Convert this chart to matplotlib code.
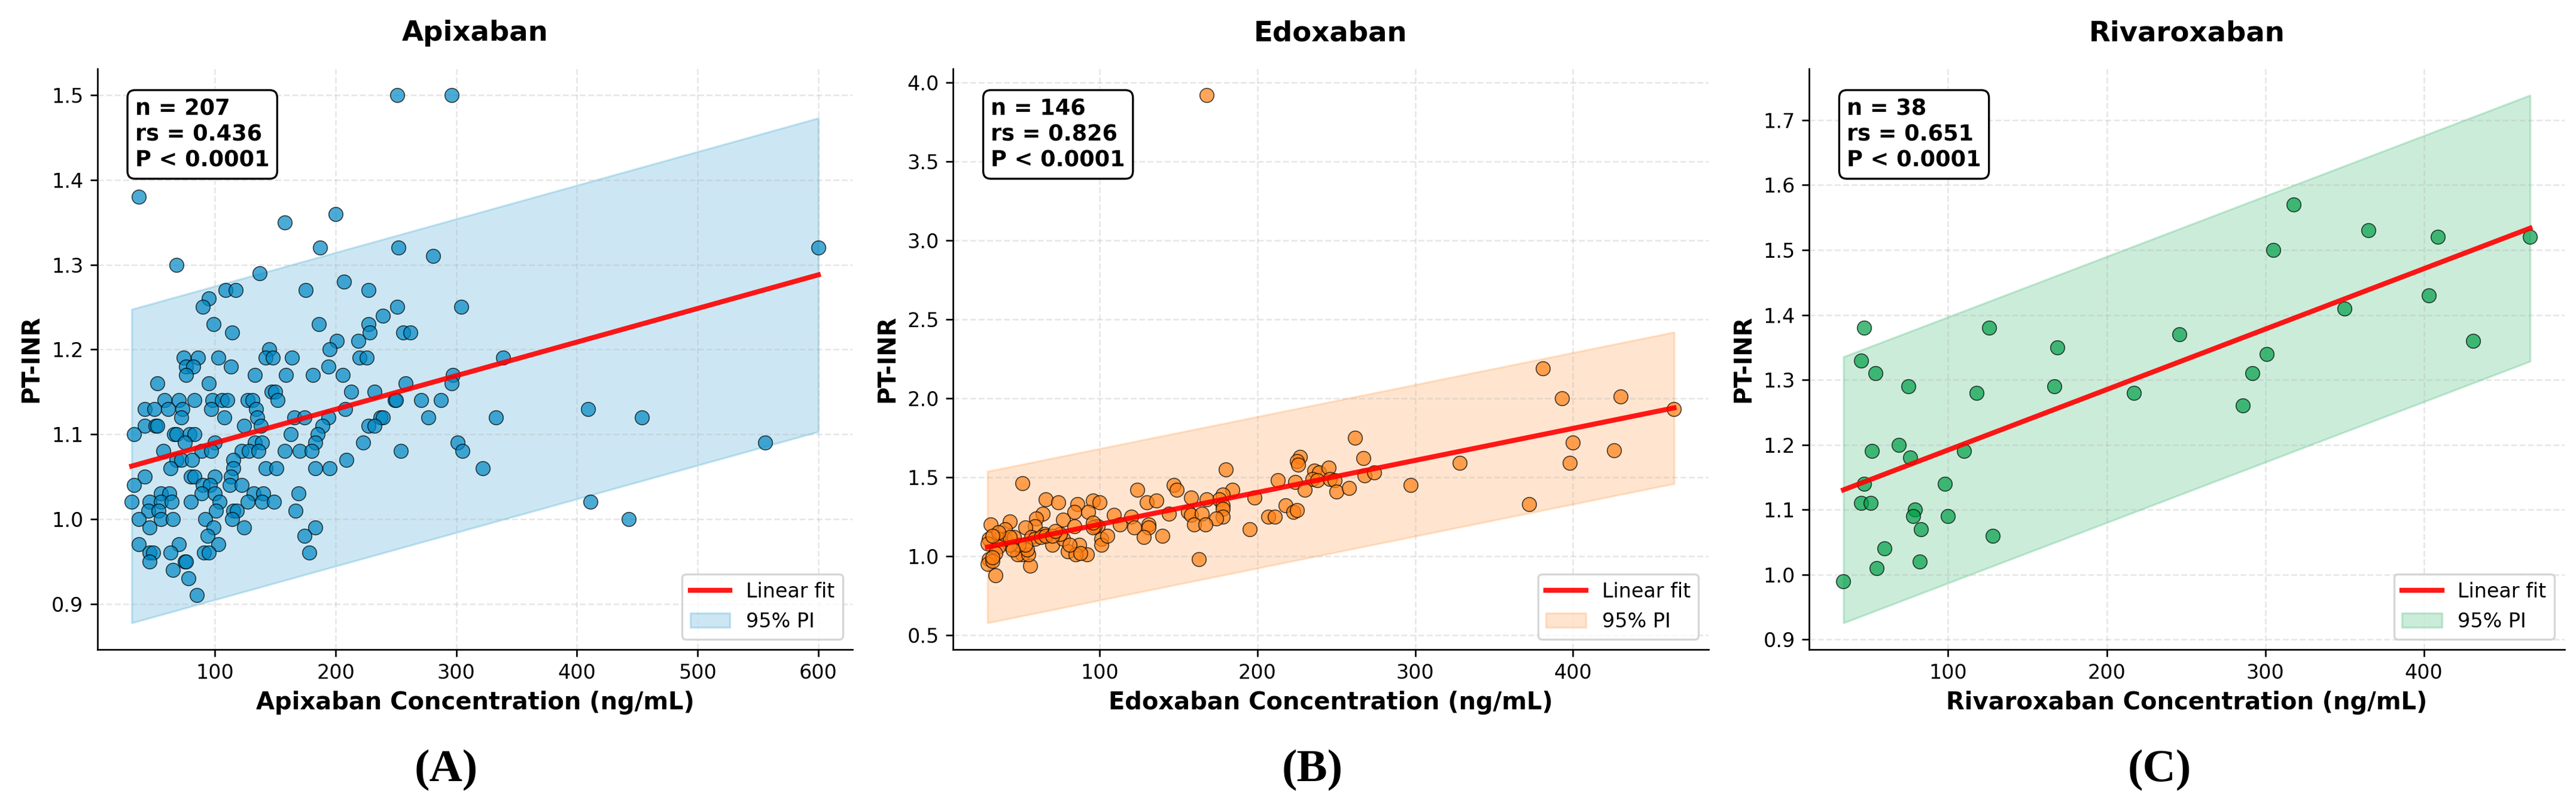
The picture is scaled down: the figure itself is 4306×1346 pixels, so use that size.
import matplotlib

matplotlib.use("Agg")
import matplotlib.pyplot as plt
import numpy as np
from matplotlib.lines import Line2D
from matplotlib.patches import Patch

DPI = 240
FIG_W, FIG_H = 4306 / DPI, 1346 / DPI

# values
apix_conc = [
    37, 251, 296, 68, 158, 200, 187, 252, 281, 600,
    137, 109, 117, 175, 207, 227, 95, 90, 251, 304,
    239, 99, 186, 227, 114, 228, 256, 262, 201, 219,
    145, 195, 74, 86, 103, 142, 148, 164, 220, 226,
    339, 76, 82, 113, 194, 76, 133, 159, 181, 206,
    297, 52, 95, 258, 296, 147, 150, 213, 232, 58,
    70, 83, 98, 106, 110, 127, 131, 152, 249, 250,
    271, 287, 42, 50, 61, 73, 97, 134, 208, 409,
    135, 108, 72, 166, 174, 194, 237, 239, 277, 333,
    454, 42, 51, 52, 124, 138, 189, 227, 232, 33,
    66, 68, 79, 83, 163, 185, 75, 100, 133, 139,
    183, 223, 301, 556, 57, 89, 97, 122, 128, 136,
    158, 170, 180, 254, 305, 68, 72, 81, 115, 209,
    63, 115, 142, 151, 183, 195, 322, 42, 80, 83,
    100, 113, 33, 90, 96, 112, 122, 55, 62, 89,
    100, 132, 140, 169, 31, 46, 55, 64, 80, 104,
    127, 139, 149, 411, 45, 53, 101, 115, 118, 167,
    37, 55, 65, 92, 114, 443, 46, 99, 124, 183,
    94, 174, 37, 70, 103, 46, 49, 63, 91, 95,
    178, 46, 75, 76, 65, 78, 85,
]
apix_inr = [
    1.38, 1.50, 1.50, 1.30, 1.35, 1.36, 1.32, 1.32, 1.31, 1.32,
    1.29, 1.27, 1.27, 1.27, 1.28, 1.27, 1.26, 1.25, 1.25, 1.25,
    1.24, 1.23, 1.23, 1.23, 1.22, 1.22, 1.22, 1.22, 1.21, 1.21,
    1.20, 1.20, 1.19, 1.19, 1.19, 1.19, 1.19, 1.19, 1.19, 1.19,
    1.19, 1.18, 1.18, 1.18, 1.18, 1.17, 1.17, 1.17, 1.17, 1.17,
    1.17, 1.16, 1.16, 1.16, 1.16, 1.15, 1.15, 1.15, 1.15, 1.14,
    1.14, 1.14, 1.14, 1.14, 1.14, 1.14, 1.14, 1.14, 1.14, 1.14,
    1.14, 1.14, 1.13, 1.13, 1.13, 1.13, 1.13, 1.13, 1.13, 1.13,
    1.12, 1.12, 1.12, 1.12, 1.12, 1.12, 1.12, 1.12, 1.12, 1.12,
    1.12, 1.11, 1.11, 1.11, 1.11, 1.11, 1.11, 1.11, 1.11, 1.10,
    1.10, 1.10, 1.10, 1.10, 1.10, 1.10, 1.09, 1.09, 1.09, 1.09,
    1.09, 1.09, 1.09, 1.09, 1.08, 1.08, 1.08, 1.08, 1.08, 1.08,
    1.08, 1.08, 1.08, 1.08, 1.08, 1.07, 1.07, 1.07, 1.07, 1.07,
    1.06, 1.06, 1.06, 1.06, 1.06, 1.06, 1.06, 1.05, 1.05, 1.05,
    1.05, 1.05, 1.04, 1.04, 1.04, 1.04, 1.04, 1.03, 1.03, 1.03,
    1.03, 1.03, 1.03, 1.03, 1.02, 1.02, 1.02, 1.02, 1.02, 1.02,
    1.02, 1.02, 1.02, 1.02, 1.01, 1.01, 1.01, 1.01, 1.01, 1.01,
    1.00, 1.00, 1.00, 1.00, 1.00, 1.00, 0.99, 0.99, 0.99, 0.99,
    0.98, 0.98, 0.97, 0.97, 0.97, 0.96, 0.96, 0.96, 0.96, 0.96,
    0.96, 0.95, 0.95, 0.95, 0.94, 0.93, 0.91,
]

edox_conc = [
    51, 66, 74, 86, 96, 100, 84, 93, 64, 60,
    77, 43, 31, 59, 53, 40, 84, 109, 124, 130,
    136, 147, 149, 120, 144, 113, 122, 131, 131, 128,
    140, 99, 97, 101, 101, 105, 92, 87, 80, 85,
    88, 70, 77, 75, 65, 57, 56, 51, 48, 55,
    54, 49, 43, 40, 36, 30, 29, 36, 34, 30,
    29, 32, 34, 32, 46, 43, 59, 36, 32, 96,
    53, 45, 63, 66, 70, 72, 96, 81, 156,
    180, 262, 267, 227, 225, 226, 236, 239, 245, 268,
    274, 213, 224, 235, 238, 246, 249, 230, 250, 258,
    297, 198, 184, 178, 176, 178, 178, 178, 174, 168,
    158, 158, 165, 160, 167, 163, 195, 207, 211, 218,
    223, 225,
    168, 381, 393, 430, 464, 400, 426, 398, 328, 372,
]
edox_inr = [
    1.46, 1.36, 1.34, 1.33, 1.35, 1.34, 1.28, 1.28, 1.27, 1.24,
    1.23, 1.22, 1.20, 1.19, 1.18, 1.17, 1.19, 1.26, 1.42, 1.34,
    1.35, 1.45, 1.42, 1.25, 1.27, 1.20, 1.18, 1.20, 1.18, 1.12,
    1.13, 1.19, 1.19, 1.11, 1.07, 1.13, 1.01, 1.07, 1.03, 1.01,
    1.02, 1.07, 1.11, 1.14, 1.14, 1.12, 0.94, 1.01, 1.01, 1.01,
    1.04, 1.07, 1.07, 1.11, 1.11, 1.11, 1.08, 1.06, 1.02, 0.98,
    0.95, 0.97, 0.88, 0.99, 1.12, 1.12, 1.11, 1.15, 1.13, 1.18,
    1.07, 1.04, 1.12, 1.13, 1.13, 1.16, 1.21, 1.07, 1.28,
    1.55, 1.75, 1.62, 1.63, 1.60, 1.58, 1.54, 1.53, 1.56, 1.51,
    1.53, 1.48, 1.47, 1.49, 1.48, 1.49, 1.48, 1.42, 1.41, 1.43,
    1.45, 1.37, 1.42, 1.39, 1.36, 1.32, 1.30, 1.25, 1.24, 1.36,
    1.37, 1.26, 1.27, 1.20, 1.20, 0.98, 1.17, 1.25, 1.25, 1.32,
    1.28, 1.29,
    3.92, 2.19, 2.00, 2.01, 1.93, 1.72, 1.67, 1.59, 1.59, 1.33,
]

riva_conc = [
    34, 47, 45, 54, 75, 118, 126, 169, 167, 69,
    52, 76, 110, 47, 98, 45, 51, 79, 78, 100,
    83, 128, 60, 82, 55, 217, 246, 286, 292, 301,
    305, 318, 350, 365, 403, 409, 431, 467,
]
riva_inr = [
    0.99, 1.38, 1.33, 1.31, 1.29, 1.28, 1.38, 1.35, 1.29, 1.20,
    1.19, 1.18, 1.19, 1.14, 1.14, 1.11, 1.11, 1.10, 1.09, 1.09,
    1.07, 1.06, 1.04, 1.02, 1.01, 1.28, 1.37, 1.26, 1.31, 1.34,
    1.50, 1.57, 1.41, 1.53, 1.43, 1.52, 1.36, 1.52,
]

drugs = ["Apixaban", "Edoxaban", "Rivaroxaban"]
panel_tags = ["(A)", "(B)", "(C)"]
n_values = [207, 146, 38]
rs_values = [0.436, 0.826, 0.651]
p_label = "P < 0.0001"
# linear fit (intercept, slope) and half width of the 95% PI
fit_intercept = [1.0501, 0.998, 1.0988]
fit_slope = [0.0003965, 0.002028, 0.000931]
pi_half = [0.185, 0.48, 0.205]
colors = ["#0088C4", "#FF8014", "#00A048"]


def draw_panel(ax, conc, inr, b0, b1, half, color, drug, n, rs):
    x = np.asarray(conc, dtype=float)
    y = np.asarray(inr, dtype=float)
    xf = np.linspace(x.min(), x.max(), 200)
    yf = b0 + b1 * xf

    ax.fill_between(xf, yf - half, yf + half, color=color, alpha=0.2, zorder=1)
    ax.scatter(x, y, s=50, color=color, alpha=0.7, edgecolors="black",
               linewidths=0.5, zorder=3)
    ax.plot(xf, yf, color="red", lw=2.5, alpha=0.9, zorder=4)

    ax.set_title(drug, fontsize=14, fontweight="bold", pad=14)
    ax.set_xlabel(f"{drug} Concentration (ng/mL)", fontsize=12, fontweight="bold")
    ax.set_ylabel("PT-INR", fontsize=12, fontweight="bold")
    ax.grid(True, linestyle="--", alpha=0.3)
    ax.spines[["top", "right"]].set_visible(False)

    ax.text(0.05, 0.95, f"n = {n}\nrs = {rs:.3f}\n{p_label}", transform=ax.transAxes,
            ha="left", va="top", fontsize=11, fontweight="bold", zorder=6,
            bbox=dict(boxstyle="round,pad=0.35", facecolor="white",
                      edgecolor="black", linewidth=1.0))

    handles = [Line2D([], [], color="red", lw=2.5, alpha=0.9),
               Patch(facecolor=color, edgecolor=color, alpha=0.2)]
    ax.legend(handles, ["Linear fit", "95% PI"], loc="lower right", fontsize=10)


def main() -> None:
    fig = plt.figure(figsize=(FIG_W, FIG_H), dpi=DPI)
    lefts = [0.0378, 0.3700, 0.7023]
    tag_x = [0.1732, 0.5095, 0.8384]
    datasets = [(apix_conc, apix_inr), (edox_conc, edox_inr), (riva_conc, riva_inr)]

    for i, (conc, inr) in enumerate(datasets):
        ax = fig.add_axes([lefts[i], 0.1934, 0.2932, 0.7212])
        draw_panel(ax, conc, inr, fit_intercept[i], fit_slope[i], pi_half[i],
                   colors[i], drugs[i], n_values[i], rs_values[i])
        fig.text(tag_x[i], 0.0438, panel_tags[i], ha="center", va="center",
                 fontsize=23, fontweight="bold", family="Liberation Serif")

    fig.savefig("out.png", dpi=DPI)


if __name__ == "__main__":
    main()
